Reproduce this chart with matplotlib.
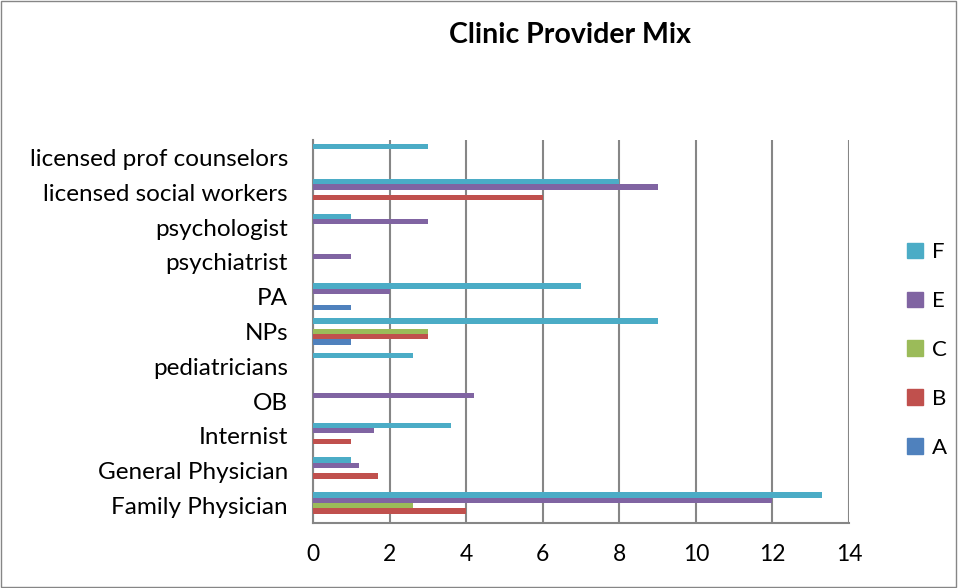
import matplotlib.pyplot as plt
import numpy as np
from matplotlib.patches import Patch

# categories bottom to top (as shown)
categories = ["Family Physician", "General Physician", "Internist", "OB",
              "pediatricians", "NPs", "PA", "psychiatrist", "psychologist",
              "licensed social workers", "licensed prof counselors"]

series_names = ["A", "B", "C", "E", "F"]
A = [0, 0, 0, 0, 0, 1, 1, 0, 0, 0, 0]
B = [4, 1.7, 1, 0, 0, 3, 0, 0, 0, 6, 0]
C = [2.6, 0, 0, 0, 0, 3, 0, 0, 0, 0, 0]
E = [12, 1.2, 1.6, 4.2, 0, 0, 2, 1, 3, 9, 0]
F = [13.3, 1, 3.6, 0, 2.6, 9, 7, 0, 1, 8, 3]
colors = ["#4F81BD", "#C0504D", "#9BBB59", "#8064A2", "#4BACC6"]

plt.rcParams['font.family'] = ['Lato', 'DejaVu Sans']

fig = plt.figure(figsize=(9.58, 5.88), dpi=100)
ax = fig.add_axes([313 / 958, 1 - 523 / 588, (849 - 313) / 958, (523 - 140) / 588])

y = np.arange(len(categories))
h = 0.153
for i, (vals, c) in enumerate(zip([A, B, C, E, F], colors)):
    ax.barh(y + (i - 2) * h, vals, height=h, color=c, zorder=3)

ax.set_xlim(0, 14)
ax.set_ylim(-0.5, len(categories) - 0.5)
ax.set_xticks(range(0, 15, 2))
ax.set_yticks(y)
ax.set_yticklabels(categories)
ax.tick_params(axis='both', length=0, labelsize=16.5, colors='black')
ax.tick_params(axis='y', labelsize=17.5)
ax.tick_params(axis='x', pad=15)
ax.tick_params(axis='y', pad=18)
ax.grid(axis='x', color='#868686', linewidth=1.5, zorder=0)
for s in ['top', 'right']:
    ax.spines[s].set_visible(False)
ax.spines['left'].set_color('#868686')
ax.spines['bottom'].set_color('#868686')
ax.spines['left'].set_linewidth(1.5)
ax.spines['bottom'].set_linewidth(1.5)

fig.text(570 / 958, 1 - 35 / 588, "Clinic Provider Mix", ha='center', va='center',
         fontsize=20.5, fontweight='bold')

handles = [Patch(color=c, label=n) for n, c in zip(series_names, colors)][::-1]
fig.legend(handles=handles, loc='center left', bbox_to_anchor=(896 / 958, 1 - 350 / 588),
           frameon=False, fontsize=16, handlelength=0.7, handleheight=0.7,
           handletextpad=0.4, labelspacing=1.3, borderpad=0)

fig.patches.append(plt.Rectangle((0.001, 0.002), 0.997, 0.996, transform=fig.transFigure,
                                 fill=False, edgecolor='#868686', linewidth=1))

fig.savefig("out.png", dpi=100)
